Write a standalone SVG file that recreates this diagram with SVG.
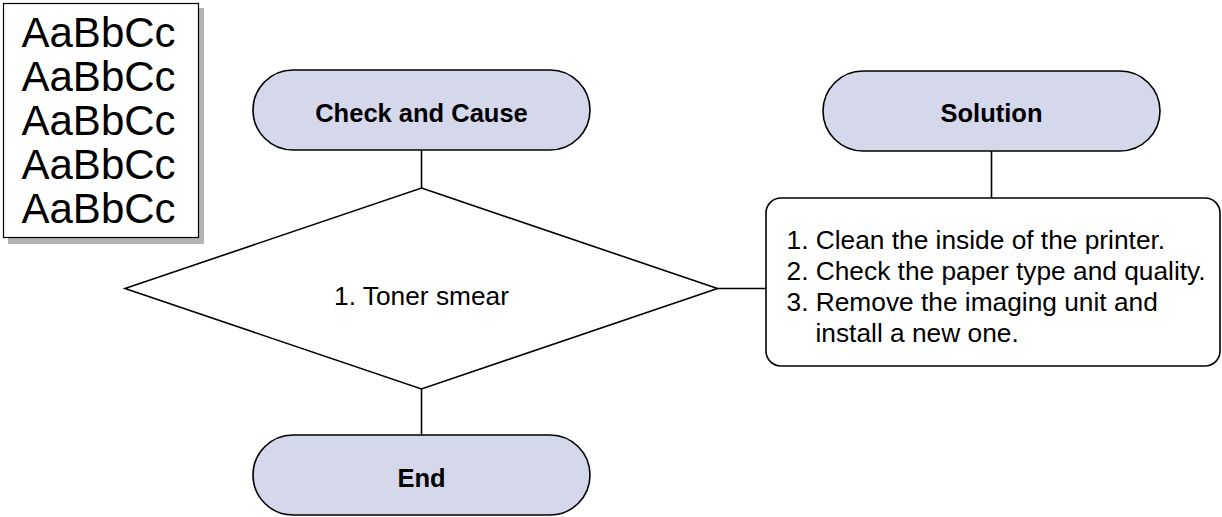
<svg xmlns="http://www.w3.org/2000/svg" width="1222" height="517" viewBox="0 0 1222 517">
  <style>
    .pill { fill: #d5d7eb; stroke: #000; stroke-width: 1.6; }
    .plain { fill: #fff; stroke: #000; stroke-width: 1.6; }
    .wire { stroke: #000; stroke-width: 1.6; fill: none; }
    .head { font-family: "Liberation Sans", Arial, sans-serif; font-weight: bold; font-size: 25.5px; text-anchor: middle; fill: #000; }
    .body { font-family: "Liberation Sans", Arial, sans-serif; font-size: 26.3px; fill: #000; }
    .sample { font-family: "Liberation Sans", Arial, sans-serif; font-size: 42px; fill: #000; }
  </style>
  <rect width="1222" height="517" fill="#fff"/>

  <!-- print sample card with drop shadow -->
  <g id="sample">
    <rect x="8" y="8" width="196" height="236" fill="#b3b3b3"/>
    <rect x="3.5" y="3.5" width="195" height="234" fill="#fff" stroke="#000" stroke-width="1.2"/>
    <text class="sample" x="21.5" y="47">AaBbCc</text>
    <text class="sample" x="21.5" y="91">AaBbCc</text>
    <text class="sample" x="21.5" y="135">AaBbCc</text>
    <text class="sample" x="21.5" y="179">AaBbCc</text>
    <text class="sample" x="21.5" y="223">AaBbCc</text>
  </g>

  <!-- connectors -->
  <g id="connectors" class="wire">
    <line x1="421.5" y1="150" x2="421.5" y2="188"/>
    <line x1="421.5" y1="389" x2="421.5" y2="435"/>
    <line x1="717.5" y1="288.5" x2="766" y2="288.5"/>
    <line x1="991.5" y1="151" x2="991.5" y2="198"/>
  </g>

  <g id="check-and-cause">
    <rect class="pill" x="253" y="70" width="337" height="80" rx="40" ry="40"/>
    <text class="head" x="421.5" y="122">Check and Cause</text>
  </g>

  <g id="toner-smear">
    <polygon class="plain" points="421.5,188 717.5,288.5 421.5,389 125,288.5"/>
    <text class="body" x="421.5" y="305" text-anchor="middle">1. Toner smear</text>
  </g>

  <g id="end">
    <rect class="pill" x="253" y="435" width="337" height="80" rx="40" ry="40"/>
    <text class="head" x="421.5" y="487">End</text>
  </g>

  <g id="solution">
    <rect class="pill" x="823" y="71" width="337" height="80" rx="40" ry="40"/>
    <text class="head" x="991.5" y="122">Solution</text>
  </g>

  <g id="solution-steps">
    <rect class="plain" x="766" y="198" width="454" height="168" rx="15" ry="15"/>
    <text class="body" x="786.5" y="249">1. Clean the inside of the printer.</text>
    <text class="body" x="786.5" y="280">2. Check the paper type and quality.</text>
    <text class="body" x="786.5" y="311">3. Remove the imaging unit and</text>
    <text class="body" x="815.5" y="342">install a new one.</text>
  </g>
</svg>
